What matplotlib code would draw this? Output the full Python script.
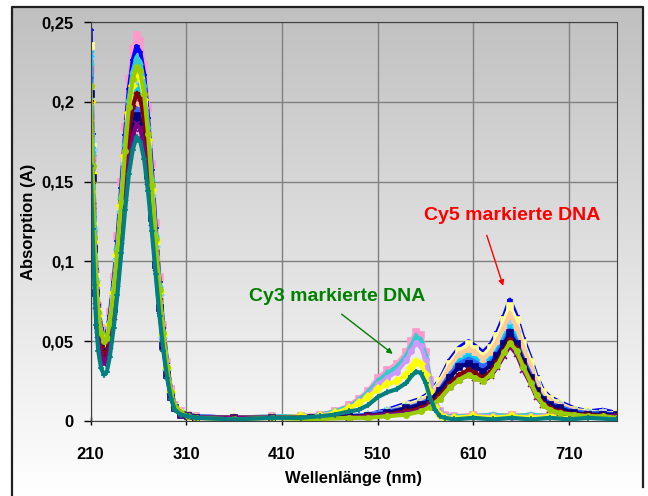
import matplotlib
matplotlib.use("Agg")
import matplotlib.pyplot as plt
import numpy as np
from matplotlib.colors import LinearSegmentedColormap

plt.rcParams['font.family'] = ['Liberation Sans', 'DejaVu Sans']
plt.rcParams['font.weight'] = 'bold'

# wavelength grids (nm)
wl_uv = [210, 212, 214, 216, 218, 221, 224, 227, 230, 234, 238, 242, 246, 250,
         254, 258, 262, 266, 270, 274, 278, 282, 286, 290, 294, 298, 304, 312]
wl_cy3 = [320, 360, 400, 430, 450, 465, 480, 490, 500, 510, 520, 530, 540, 545,
          550, 555, 560, 565, 570, 575, 580, 590, 610, 630, 650, 670, 690, 710, 730, 760]
wl_cy5 = [320, 360, 400, 440, 480, 500, 520, 540, 555, 565, 575, 585, 595, 605,
          612, 620, 628, 635, 642, 648, 655, 662, 670, 676, 683, 690, 700, 715, 730, 745, 760]

# --- Cy3 labelled samples ---
pink_uv = [0.22, 0.165, 0.12, 0.092, 0.072, 0.058, 0.054, 0.057, 0.068, 0.090, 0.116, 0.150, 0.184, 0.214,
           0.233, 0.242, 0.238, 0.223, 0.196, 0.161, 0.124, 0.090, 0.060, 0.037, 0.020, 0.010, 0.006, 0.004]
pink_vis = [0.003, 0.002, 0.003, 0.003, 0.004, 0.006, 0.010, 0.014, 0.019, 0.027, 0.032, 0.036, 0.043, 0.050,
            0.056, 0.054, 0.043, 0.026, 0.013, 0.006, 0.004, 0.003, 0.004, 0.003, 0.004, 0.003, 0.004, 0.003, 0.004, 0.003]

turq_uv = [0.225, 0.168, 0.12, 0.09, 0.07, 0.056, 0.051, 0.053, 0.063, 0.084, 0.109, 0.141, 0.174, 0.202,
           0.219, 0.228, 0.225, 0.211, 0.185, 0.152, 0.117, 0.085, 0.056, 0.035, 0.018, 0.010, 0.005, 0.004]
turq_vis = [0.003, 0.002, 0.003, 0.003, 0.004, 0.006, 0.009, 0.013, 0.018, 0.025, 0.030, 0.034, 0.041, 0.047,
            0.053, 0.051, 0.041, 0.025, 0.012, 0.006, 0.003, 0.003, 0.003, 0.004, 0.003, 0.004, 0.003, 0.003, 0.004, 0.003]

lav_uv = [0.21, 0.155, 0.11, 0.082, 0.062, 0.048, 0.043, 0.045, 0.054, 0.073, 0.095, 0.124, 0.152, 0.177,
          0.192, 0.200, 0.197, 0.185, 0.162, 0.133, 0.103, 0.074, 0.050, 0.030, 0.016, 0.008, 0.005, 0.003]
lav_vis = [0.003, 0.002, 0.002, 0.003, 0.004, 0.005, 0.008, 0.012, 0.016, 0.023, 0.027, 0.031, 0.038, 0.044,
           0.049, 0.047, 0.038, 0.023, 0.011, 0.005, 0.003, 0.002, 0.003, 0.003, 0.002, 0.003, 0.003, 0.002, 0.003, 0.003]

yel_uv = [0.2, 0.155, 0.112, 0.085, 0.066, 0.053, 0.048, 0.05, 0.06, 0.08, 0.104, 0.135, 0.166, 0.193,
          0.210, 0.218, 0.215, 0.201, 0.176, 0.145, 0.112, 0.081, 0.054, 0.033, 0.018, 0.009, 0.005, 0.003]
yel_vis = [0.002, 0.002, 0.002, 0.003, 0.003, 0.005, 0.008, 0.011, 0.015, 0.020, 0.023, 0.025, 0.029, 0.033,
           0.037, 0.036, 0.029, 0.018, 0.009, 0.004, 0.002, 0.002, 0.003, 0.002, 0.003, 0.002, 0.003, 0.002, 0.003, 0.002]

teal_uv = [0.16, 0.12, 0.085, 0.06, 0.044, 0.033, 0.029, 0.031, 0.04, 0.058, 0.079, 0.105, 0.132, 0.155,
           0.170, 0.178, 0.175, 0.164, 0.144, 0.119, 0.092, 0.066, 0.044, 0.027, 0.014, 0.007, 0.004, 0.003]
teal_vis = [0.002, 0.001, 0.002, 0.002, 0.003, 0.004, 0.006, 0.007, 0.010, 0.015, 0.018, 0.020, 0.024, 0.028,
            0.031, 0.030, 0.024, 0.014, 0.007, 0.003, 0.002, 0.001, 0.002, 0.001, 0.002, 0.001, 0.002, 0.001, 0.002, 0.001]

# --- Cy5 labelled samples ---
blue_uv = [0.245, 0.18, 0.128, 0.095, 0.073, 0.058, 0.053, 0.055, 0.066, 0.087, 0.113, 0.146, 0.179, 0.208,
           0.226, 0.235, 0.231, 0.217, 0.190, 0.157, 0.121, 0.087, 0.058, 0.036, 0.019, 0.010, 0.006, 0.004]
blue_vis = [0.003, 0.002, 0.002, 0.002, 0.003, 0.004, 0.007, 0.011, 0.014, 0.018, 0.026, 0.038, 0.046, 0.050,
            0.047, 0.043, 0.048, 0.056, 0.066, 0.076, 0.066, 0.052, 0.039, 0.028, 0.019, 0.015, 0.012, 0.008, 0.006, 0.007, 0.005]

lyel_uv = [0.235, 0.172, 0.122, 0.09, 0.068, 0.053, 0.048, 0.05, 0.059, 0.079, 0.102, 0.133, 0.164, 0.190,
           0.207, 0.215, 0.212, 0.199, 0.174, 0.143, 0.110, 0.080, 0.053, 0.033, 0.017, 0.009, 0.005, 0.003]
lyel_vis = [0.002, 0.002, 0.002, 0.003, 0.003, 0.004, 0.006, 0.010, 0.013, 0.017, 0.025, 0.036, 0.044, 0.048,
            0.045, 0.041, 0.046, 0.053, 0.063, 0.072, 0.063, 0.049, 0.037, 0.026, 0.018, 0.014, 0.011, 0.007, 0.006, 0.005, 0.005]

tan_uv = [0.19, 0.145, 0.105, 0.078, 0.06, 0.046, 0.041, 0.043, 0.052, 0.072, 0.094, 0.122, 0.151, 0.175,
          0.190, 0.198, 0.195, 0.183, 0.160, 0.132, 0.102, 0.074, 0.049, 0.030, 0.016, 0.008, 0.005, 0.003]
tan_vis = [0.002, 0.002, 0.002, 0.002, 0.003, 0.004, 0.006, 0.009, 0.012, 0.016, 0.023, 0.034, 0.042, 0.045,
           0.043, 0.039, 0.043, 0.050, 0.059, 0.067, 0.059, 0.046, 0.034, 0.024, 0.016, 0.013, 0.010, 0.007, 0.005, 0.005, 0.004]

lblue_uv = [0.228, 0.17, 0.12, 0.088, 0.067, 0.052, 0.047, 0.049, 0.058, 0.078, 0.101, 0.131, 0.161, 0.188,
            0.204, 0.212, 0.209, 0.196, 0.172, 0.141, 0.109, 0.079, 0.052, 0.032, 0.017, 0.009, 0.005, 0.003]
lblue_vis = [0.002, 0.002, 0.002, 0.002, 0.003, 0.004, 0.006, 0.009, 0.012, 0.015, 0.022, 0.032, 0.040, 0.043,
             0.041, 0.037, 0.041, 0.047, 0.056, 0.063, 0.056, 0.044, 0.032, 0.023, 0.015, 0.012, 0.010, 0.006, 0.005, 0.005, 0.004]

sky_uv = [0.23, 0.17, 0.12, 0.088, 0.066, 0.05, 0.045, 0.047, 0.057, 0.077, 0.100, 0.130, 0.160, 0.186,
          0.202, 0.210, 0.207, 0.194, 0.170, 0.140, 0.108, 0.078, 0.052, 0.032, 0.017, 0.009, 0.005, 0.003]
sky_vis = [0.002, 0.002, 0.002, 0.002, 0.003, 0.004, 0.006, 0.009, 0.011, 0.014, 0.021, 0.031, 0.038, 0.041,
           0.039, 0.035, 0.039, 0.045, 0.053, 0.059, 0.053, 0.041, 0.030, 0.021, 0.014, 0.011, 0.009, 0.006, 0.005, 0.004, 0.004]

royal_uv = [0.215, 0.16, 0.113, 0.083, 0.063, 0.048, 0.043, 0.045, 0.054, 0.073, 0.094, 0.123, 0.150, 0.175,
            0.189, 0.196, 0.193, 0.181, 0.159, 0.131, 0.101, 0.073, 0.049, 0.030, 0.016, 0.008, 0.005, 0.003]
royal_vis = [0.003, 0.002, 0.002, 0.003, 0.003, 0.004, 0.006, 0.008, 0.011, 0.014, 0.020, 0.029, 0.036, 0.039,
             0.037, 0.034, 0.037, 0.043, 0.050, 0.057, 0.050, 0.039, 0.029, 0.020, 0.014, 0.011, 0.009, 0.006, 0.005, 0.005, 0.004]

navy_uv = [0.205, 0.152, 0.108, 0.08, 0.06, 0.046, 0.041, 0.043, 0.052, 0.070, 0.091, 0.119, 0.146, 0.170,
           0.184, 0.191, 0.188, 0.176, 0.154, 0.127, 0.098, 0.071, 0.047, 0.029, 0.015, 0.008, 0.004, 0.003]
navy_vis = [0.002, 0.002, 0.002, 0.002, 0.003, 0.003, 0.005, 0.008, 0.010, 0.013, 0.019, 0.027, 0.034, 0.036,
            0.034, 0.031, 0.035, 0.041, 0.048, 0.055, 0.048, 0.037, 0.027, 0.019, 0.013, 0.010, 0.008, 0.005, 0.004, 0.004, 0.004]

dred_uv = [0.2, 0.15, 0.108, 0.08, 0.06, 0.046, 0.041, 0.043, 0.053, 0.073, 0.096, 0.126, 0.155, 0.181,
           0.197, 0.205, 0.202, 0.189, 0.166, 0.137, 0.106, 0.076, 0.051, 0.031, 0.017, 0.009, 0.005, 0.003]
dred_vis = [0.002, 0.002, 0.002, 0.002, 0.002, 0.003, 0.004, 0.006, 0.008, 0.011, 0.016, 0.023, 0.029, 0.032,
            0.030, 0.027, 0.031, 0.037, 0.044, 0.051, 0.045, 0.035, 0.025, 0.017, 0.011, 0.008, 0.006, 0.004, 0.004, 0.003, 0.003]

purple_uv = [0.18, 0.135, 0.097, 0.072, 0.054, 0.041, 0.036, 0.038, 0.047, 0.065, 0.086, 0.113, 0.140, 0.163,
             0.178, 0.186, 0.183, 0.171, 0.150, 0.124, 0.096, 0.069, 0.046, 0.028, 0.015, 0.008, 0.004, 0.003]
purple_vis = [0.002, 0.002, 0.002, 0.002, 0.002, 0.003, 0.004, 0.005, 0.007, 0.010, 0.014, 0.021, 0.026, 0.029,
              0.027, 0.025, 0.028, 0.034, 0.041, 0.047, 0.042, 0.032, 0.023, 0.015, 0.010, 0.007, 0.005, 0.004, 0.003, 0.003, 0.003]

lime_uv = [0.21, 0.16, 0.115, 0.087, 0.068, 0.055, 0.05, 0.052, 0.061, 0.081, 0.106, 0.137, 0.169, 0.197,
           0.214, 0.222, 0.219, 0.205, 0.180, 0.148, 0.114, 0.082, 0.055, 0.034, 0.018, 0.009, 0.005, 0.003]
lime_vis = [0.002, 0.001, 0.002, 0.001, 0.002, 0.002, 0.003, 0.004, 0.006, 0.009, 0.014, 0.021, 0.026, 0.029,
            0.027, 0.025, 0.029, 0.035, 0.043, 0.049, 0.044, 0.034, 0.024, 0.016, 0.010, 0.007, 0.005, 0.004, 0.003, 0.003, 0.002]

# draw order, colours and markers (Excel-like palette)
series = [
    (pink_uv, pink_vis, wl_cy3, '#FF99CC', 's'),
    (blue_uv, blue_vis, wl_cy5, '#0000FF', '_'),
    (turq_uv, turq_vis, wl_cy3, '#33CCCC', '^'),
    (lyel_uv, lyel_vis, wl_cy5, '#FFFF99', 's'),
    (lblue_uv, lblue_vis, wl_cy5, '#99CCFF', 'D'),
    (sky_uv, sky_vis, wl_cy5, '#00CCFF', 'x'),
    (lav_uv, lav_vis, wl_cy3, '#CC99FF', 'o'),
    (tan_uv, tan_vis, wl_cy5, '#FFCC99', '^'),
    (royal_uv, royal_vis, wl_cy5, '#3366FF', '_'),
    (yel_uv, yel_vis, wl_cy3, '#FFFF00', 'D'),
    (navy_uv, navy_vis, wl_cy5, '#000080', 's'),
    (dred_uv, dred_vis, wl_cy5, '#800000', '*'),
    (purple_uv, purple_vis, wl_cy5, '#800080', 'x'),
    (lime_uv, lime_vis, wl_cy5, '#99CC00', 'o'),
    (teal_uv, teal_vis, wl_cy3, '#008080', '+'),
]

x_ticks = [210, 310, 410, 510, 610, 710]
y_ticks = [0, 0.05, 0.1, 0.15, 0.2, 0.25]
y_tick_labels = ['0', '0,05', '0,1', '0,15', '0,2', '0,25']

fig = plt.figure(figsize=(6.48, 4.96), dpi=100)

# gradient background with the outer chart border
bg = fig.add_axes([0, 0, 1, 1])
bg.set_xlim(0, 648)
bg.set_ylim(496, 0)
bg.axis('off')
cmap = LinearSegmentedColormap.from_list('g', ['#c0c0c0', '#ffffff'])
bg.imshow(np.linspace(0, 1, 256)[:, None], cmap=cmap, aspect='auto',
          extent=[11.5, 643, 496, 6.5], zorder=0)
bg.plot([11.5, 11.5, 643, 643], [496, 6.5, 6.5, 487], color='#202020', lw=1.6)

ax = fig.add_axes([0.1398, 0.1512, 0.8124, 0.8044])
ax.set_facecolor('none')

for uv, vis, wl_vis, col, mk in series:
    x = wl_uv + wl_vis
    y = uv + vis
    ax.plot(x, y, color=col, lw=3.0, marker=mk, ms=3.8, mew=1.2,
            markerfacecolor=col, markeredgecolor=col, solid_joinstyle='round')

ax.set_xlim(210, 760)
ax.set_ylim(0, 0.25)
ax.set_xticks(x_ticks)
ax.set_yticks(y_ticks)
ax.set_yticklabels(y_tick_labels)
ax.grid(True, color='#808080', lw=1.0)
ax.set_axisbelow(True)
ax.tick_params(axis='y', direction='out', length=5, width=1, pad=7, labelsize=12)
ax.tick_params(axis='x', direction='inout', length=6, width=1, pad=16, labelsize=12)
for s in ['top', 'right', 'left', 'bottom']:
    ax.spines[s].set_color('#404040')
ax.set_xlabel('Wellenlänge (nm)', fontsize=12, fontweight='bold', labelpad=6)
ax.set_ylabel('Absorption (A)', fontsize=12, fontweight='bold', labelpad=4)

ax.text(650, 0.129, 'Cy5 markierte DNA', color='#FF0000', fontsize=14,
        fontweight='bold', ha='center', va='center')
ax.annotate('', xy=(642, 0.083), xytext=(623, 0.118),
            arrowprops=dict(arrowstyle='-|>', color='#FF0000', lw=1, mutation_scale=8))
ax.text(468, 0.078, 'Cy3 markierte DNA', color='#008000', fontsize=14,
        fontweight='bold', ha='center', va='center')
ax.annotate('', xy=(528, 0.041), xytext=(470, 0.068),
            arrowprops=dict(arrowstyle='-|>', color='#008000', lw=1, mutation_scale=8))

fig.savefig('out.png', dpi=100)
